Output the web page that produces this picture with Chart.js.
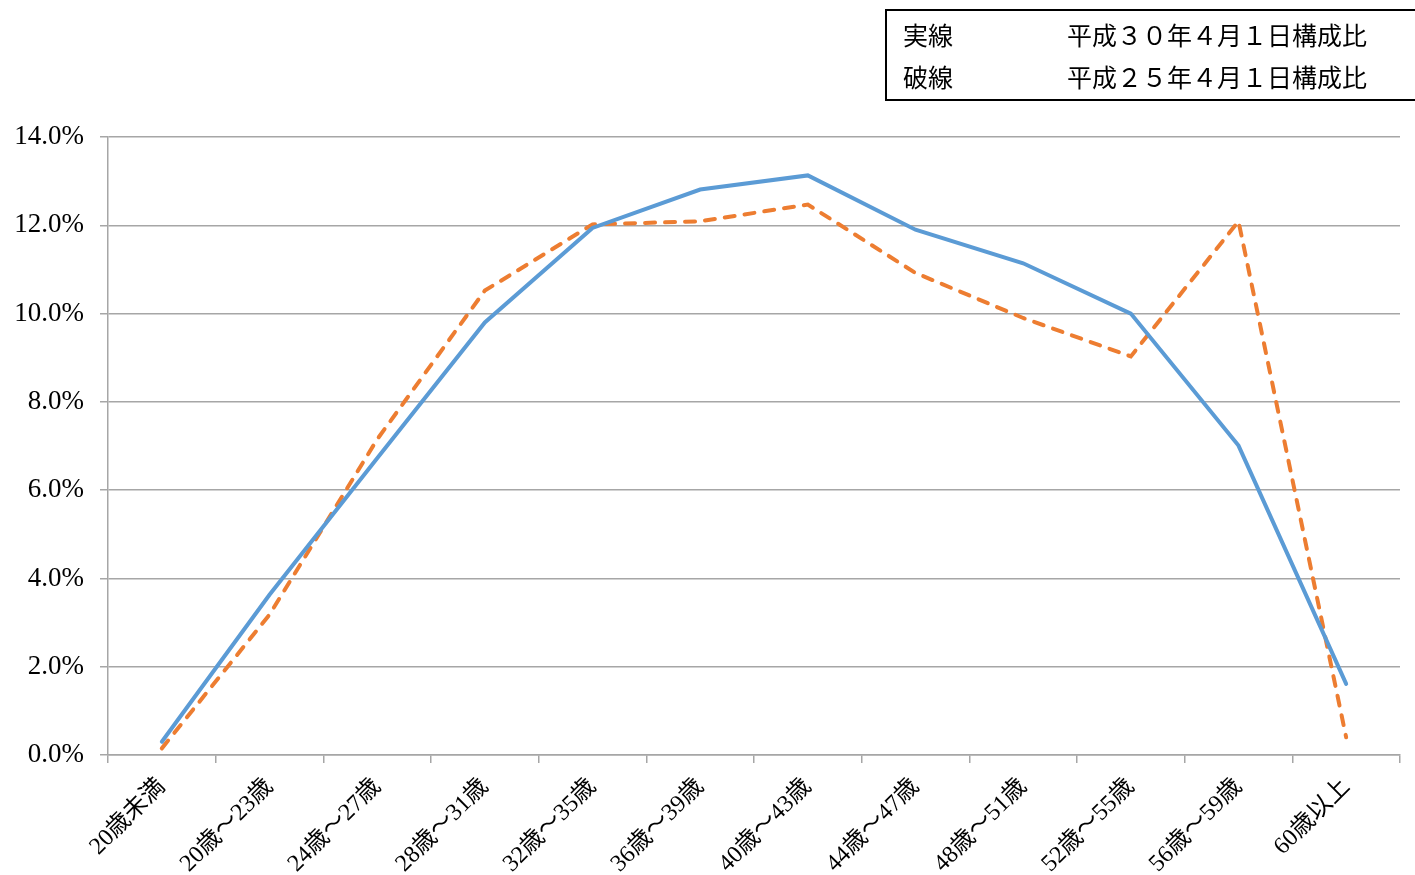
<!DOCTYPE html>
<html>
<head>
<meta charset="utf-8">
<script src="https://cdn.jsdelivr.net/npm/chart.js@4"></script>
<style>
  html, body { margin: 0; padding: 0; background: #fff; }
  #wrap { position: relative; width: 1415px; height: 875px; overflow: hidden; }
  #c { position: absolute; left: 0; top: 0; }
  #legend {
    position: absolute; left: 885px; top: 9px; width: 540px; height: 88px;
    border: 2px solid #000; box-sizing: content-box;
    font-family: "Noto Sans CJK JP", "Noto Sans", sans-serif; font-size: 25px; color: #000;
  }
  .row { position: absolute; left: 16px; height: 30px; line-height: 30px; white-space: nowrap; }
  .row .k { position: absolute; left: 0; }
  .row .v { position: absolute; left: 164px; }
</style>
</head>
<body>
<div id="wrap">
  <canvas id="c" width="1415" height="875"></canvas>
  <div id="legend">
    <div class="row" style="top:8px"><span class="k">実線</span><span class="v">平成３０年４月１日構成比</span></div>
    <div class="row" style="top:50px"><span class="k">破線</span><span class="v">平成２５年４月１日構成比</span></div>
  </div>
</div>
<script>
const categories = ["20歳未満", "20歳〜23歳", "24歳〜27歳", "28歳〜31歳", "32歳〜35歳", "36歳〜39歳",
  "40歳〜43歳", "44歳〜47歳", "48歳〜51歳", "52歳〜55歳", "56歳〜59歳", "60歳以上"];
const h30Share = [0.30, 3.63, 6.72, 9.80, 11.94, 12.81, 13.13, 11.90, 11.14, 10.00, 7.01, 1.61];
const h25Share = [0.15, 3.18, 7.15, 10.52, 12.02, 12.09, 12.47, 10.92, 9.90, 9.03, 12.09, 0.40];
const yTickMin = 0, yTickMax = 14, yTickStep = 2;

const serif = '"Liberation Serif", "Noto Sans CJK JP", serif';

new Chart(document.getElementById('c'), {
  type: 'line',
  data: {
    labels: categories,
    datasets: [
      { label: '平成30年4月1日構成比', data: h30Share, borderColor: '#5b9bd5', borderWidth: 4,
        pointRadius: 0, tension: 0, fill: false, borderCapStyle: 'round', borderJoinStyle: 'miter' },
      { label: '平成25年4月1日構成比', data: h25Share, borderColor: '#ed7d31', borderWidth: 4,
        borderDash: [10, 10], borderCapStyle: 'round', pointRadius: 0, tension: 0, fill: false }
    ]
  },
  options: {
    responsive: false,
    animation: false,
    devicePixelRatio: 1,
    layout: { padding: { top: 137, right: 15, left: 0, bottom: 0 } },
    plugins: { legend: { display: false }, tooltip: { enabled: false } },
    scales: {
      x: {
        offset: true,
        grid: { display: true, drawOnChartArea: false, tickLength: 8, color: '#a6a6a6', lineWidth: 1.5, offset: true },
        border: { display: true, color: '#a6a6a6', width: 1.5 },
        ticks: { color: '#000', font: { family: serif, size: 24 }, minRotation: 45, maxRotation: 45, autoSkip: false, padding: 10 },
        afterFit: (s) => { s.height = 120; }
      },
      y: {
        min: yTickMin, max: yTickMax,
        grid: { color: '#a6a6a6', lineWidth: 1.5, tickLength: 8 },
        border: { display: true, color: '#a6a6a6', width: 1.5 },
        ticks: { stepSize: yTickStep, color: '#000', font: { family: serif, size: 27 }, padding: 16,
          callback: (v) => Number(v).toFixed(1) + '%' },
        afterFit: (s) => { s.width = 108; }
      }
    }
  }
});
</script>
</body>
</html>
